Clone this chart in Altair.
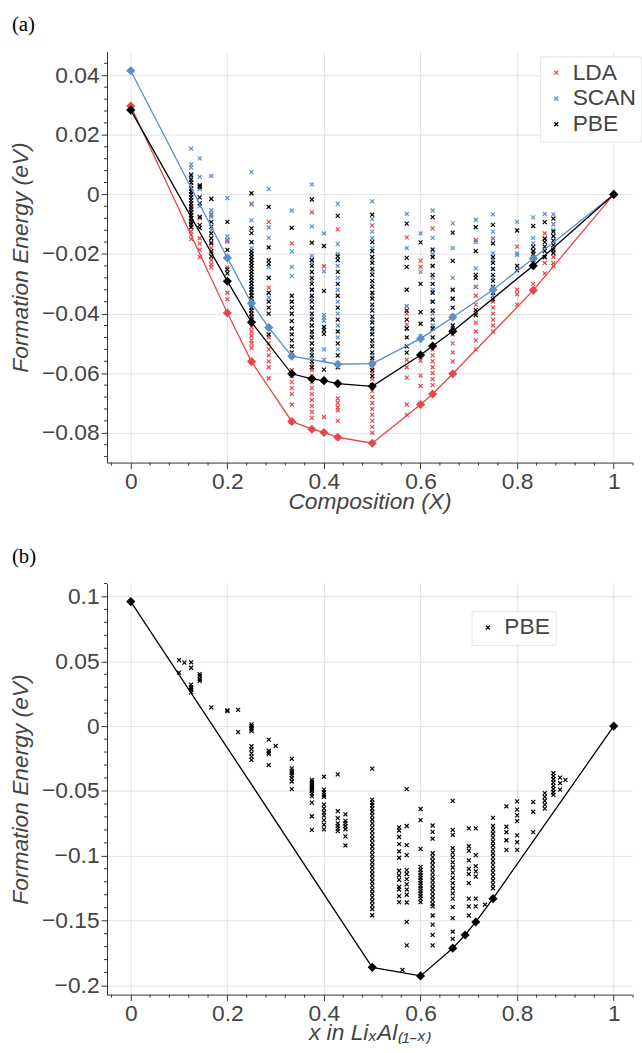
import altair as alt
import pandas as pd

RED = "#e5484a"
BLUE = "#5b8dc9"
BLACK = "#000000"
XPATH = "M-1,-1L1,1M-1,1L1,-1"

# ---------------- Panel (a): scatter values per composition ----------------
LDA_A = {
    0.125: [-0.0045, -0.006, -0.007, -0.008, -0.009, -0.0095, -0.010, -0.011, -0.0125, -0.0135, -0.015],
    1/7: [-0.008, -0.0147, -0.0165, -0.0186, -0.021],
    1/6: [-0.0069, -0.016, -0.018, -0.0197, -0.022, -0.0235, -0.0245],
    0.2: [-0.0158, -0.0245, -0.033, -0.0352],
    0.25: [-0.0031, -0.036, -0.038, -0.040, -0.0415, -0.043, -0.0445, -0.046, -0.0475, -0.049, -0.050, -0.0515, -0.0561],
    2/7: [-0.0092, -0.0313, -0.048, -0.050, -0.052, -0.054, -0.056, -0.058, -0.0617],
    1/3: [-0.0164, -0.059, -0.061, -0.063, -0.065, -0.067, -0.0705, -0.0762],
    0.375: [-0.006, -0.057, -0.059, -0.061, -0.063, -0.065, -0.067, -0.069, -0.071, -0.073, -0.075, -0.0788],
    0.4: [-0.0241, -0.0747, -0.0799],
    3/7: [-0.0117, -0.0685, -0.070, -0.0715, -0.0725, -0.076, -0.0815],
    0.5: [-0.0104, -0.058, -0.060, -0.062, -0.064, -0.066, -0.068, -0.070, -0.072, -0.074, -0.076, -0.078, -0.080, -0.0835],
    4/7: [-0.0144, -0.0375, -0.040, -0.0437, -0.0555, -0.058, -0.0615, -0.0705, -0.074],
    0.6: [-0.0222, -0.0243, -0.0558, -0.0608, -0.0643, -0.0705],
    0.625: [-0.0114, -0.052, -0.054, -0.056, -0.058, -0.060, -0.062, -0.064, -0.067],
    2/3: [-0.047, -0.050, -0.053, -0.056, -0.0602],
    5/7: [-0.0153, -0.031, -0.034, -0.037, -0.040, -0.043, -0.046, -0.049, -0.052],
    0.75: [-0.0148, -0.036, -0.038, -0.040, -0.042, -0.044, -0.046],
    0.8: [-0.0175, -0.032, -0.0335, -0.037],
    5/6: [-0.030, -0.0322],
    6/7: [-0.0131, -0.021, -0.023, -0.0265],
    0.875: [-0.019, -0.021, -0.023, -0.024],
}
SCAN_A = {
    0.125: [0.0154, 0.0101, 0.009, 0.0068, 0.0058, 0.003, 0.001, -0.001, -0.003, -0.005],
    1/7: [0.0121, 0.0059, 0.003, 0.0018, -0.004],
    1/6: [0.0062, -0.0015, -0.0054, -0.0065, -0.0075, -0.012],
    0.2: [-0.0012, -0.0141, -0.0153, -0.021],
    0.25: [0.0075, -0.0033, -0.0087, -0.016, -0.018, -0.020, -0.022, -0.024, -0.026, -0.028, -0.030, -0.032, -0.034, -0.0365],
    2/7: [0.0018, -0.0111, -0.0146, -0.0243, -0.028, -0.0346, -0.0449],
    1/3: [-0.0054, -0.0191, -0.0243, -0.0274, -0.036, -0.040, -0.0545],
    0.375: [0.0034, -0.0107, -0.0206, -0.023, -0.026, -0.029, -0.032, -0.035, -0.038, -0.041, -0.044, -0.047, -0.050, -0.053, -0.055],
    0.4: [-0.0131, -0.0258, -0.0404, -0.0414, -0.0424, -0.052, -0.0555],
    3/7: [-0.0031, -0.0166, -0.020, -0.024, -0.028, -0.032, -0.036, -0.040, -0.044, -0.048, -0.052, -0.057],
    0.5: [-0.0023, -0.0083, -0.0125, -0.0147, -0.018, -0.022, -0.026, -0.030, -0.034, -0.038, -0.042, -0.046, -0.050, -0.054, -0.0568],
    4/7: [-0.0065, -0.018, -0.0375, -0.045],
    0.6: [-0.0131, -0.026, -0.0476, -0.0484],
    0.625: [-0.0054, -0.0146, -0.020, -0.024, -0.028, -0.032, -0.036, -0.040, -0.044],
    2/3: [-0.0097, -0.018, -0.028, -0.035, -0.0412],
    5/7: [-0.0085, -0.016, -0.0248, -0.031],
    0.75: [-0.0067, -0.0125, -0.0148, -0.0197, -0.022, -0.025, -0.028, -0.031, -0.034],
    0.8: [-0.0092, -0.0198, -0.0203],
    5/6: [-0.0077, -0.0146, -0.0164, -0.019],
    6/7: [-0.0065, -0.0148],
    0.875: [-0.0067, -0.010, -0.012, -0.014],
}
PBE_A = {
    0.125: [0.0065, 0.005, 0.004, 0.002, 0.001, 0.0, -0.001, -0.002, -0.003, -0.004, -0.005, -0.006, -0.007, -0.008, -0.009, -0.010, -0.011],
    1/7: [0.003, 0.0025, -0.001, -0.003, -0.0075, -0.0103, -0.0113],
    1/6: [-0.0015, -0.0092, -0.0108, -0.0131, -0.0147, -0.0164, -0.0191, -0.0208],
    0.2: [-0.0092, -0.0186, -0.0252, -0.0265],
    0.25: [0.0004, -0.0114, -0.013, -0.016, -0.019, -0.020, -0.021, -0.022, -0.023, -0.024, -0.025, -0.026, -0.027, -0.028, -0.029, -0.030, -0.031, -0.032, -0.033, -0.034, -0.035, -0.036, -0.037, -0.038, -0.039, -0.040, -0.041, -0.042],
    2/7: [-0.0042, -0.0178, -0.0221, -0.0233, -0.028, -0.033, -0.036, -0.038, -0.040, -0.047],
    1/3: [-0.0112, -0.034, -0.036, -0.038, -0.040, -0.0425, -0.045, -0.047, -0.049, -0.051, -0.053],
    0.375: [-0.0017, -0.0162, -0.022, -0.024, -0.026, -0.028, -0.030, -0.032, -0.034, -0.036, -0.038, -0.040, -0.042, -0.044, -0.046, -0.048, -0.050, -0.052, -0.054, -0.056, -0.058],
    0.4: [-0.0173, -0.0324, -0.0445, -0.0455, -0.0468, -0.0588],
    3/7: [-0.0072, -0.0208, -0.022, -0.026, -0.030, -0.034, -0.038, -0.042, -0.046, -0.050, -0.054, -0.058],
    0.5: [-0.0068, -0.016, -0.019, -0.021, -0.023, -0.025, -0.027, -0.029, -0.031, -0.033, -0.035, -0.037, -0.039, -0.041, -0.043, -0.045, -0.047, -0.049, -0.051, -0.053, -0.055, -0.057, -0.059, -0.061],
    4/7: [-0.0098, -0.0213, -0.0243, -0.032, -0.039, -0.042, -0.045, -0.048, -0.051, -0.0531],
    0.6: [-0.0161, -0.030, -0.0395, -0.0434],
    0.625: [-0.0076, -0.0185, -0.021, -0.024, -0.027, -0.030, -0.033, -0.036, -0.039, -0.042, -0.045, -0.048],
    2/3: [-0.0128, -0.0223, -0.032, -0.035, -0.038, -0.041, -0.044],
    5/7: [-0.011, -0.019, -0.027, -0.028, -0.0388, -0.0405],
    0.75: [-0.0102, -0.0164, -0.021, -0.023, -0.025, -0.027, -0.029, -0.031, -0.033, -0.0352],
    0.8: [-0.0121, -0.024, -0.0255],
    5/6: [-0.0106, -0.0176, -0.019, -0.020, -0.022],
    6/7: [-0.0093, -0.0148, -0.016, -0.0175, -0.019, -0.021],
    0.875: [-0.0081, -0.0125, -0.014, -0.0155, -0.017, -0.0185, -0.0197],
}

# ---------------- Panel (a): convex hulls ----------------
HULL_LDA_X = [0, 0.2, 0.25, 1/3, 0.375, 0.4, 3/7, 0.5, 0.6, 0.625, 2/3, 5/6, 1]
HULL_LDA_Y = [0.0297, -0.0398, -0.0561, -0.0762, -0.0788, -0.0799, -0.0815, -0.0835, -0.0705, -0.067, -0.0602, -0.0322, 0]
HULL_SCAN_X = [0, 0.2, 0.25, 2/7, 1/3, 3/7, 0.5, 0.6, 2/3, 0.75, 5/6, 1]
HULL_SCAN_Y = [0.0415, -0.0213, -0.0365, -0.0447, -0.0543, -0.0570, -0.0568, -0.0484, -0.0412, -0.032, -0.0215, 0]
HULL_PBE_X = [0, 0.2, 0.25, 1/3, 0.375, 0.4, 3/7, 0.5, 0.6, 0.625, 2/3, 5/6, 1]
HULL_PBE_Y = [0.0283, -0.0291, -0.0429, -0.0602, -0.0619, -0.0625, -0.0635, -0.0644, -0.0539, -0.0509, -0.0459, -0.0239, 0]

# ---------------- Panel (b): PBE Li-Al ----------------
PBE_B = {
    0.1: [0.0509, 0.0412],
    1/9: [0.049],
    0.125: [0.0492, 0.045, 0.032, 0.030, 0.029, 0.028, 0.026],
    1/7: [0.040, 0.0385, 0.0365, 0.035],
    1/6: [0.0145],
    0.2: [0.0122, 0.0115],
    2/9: [0.0125, -0.0046],
    0.25: [0.0013, 0.0, -0.0013, -0.0025, -0.0038, -0.0155, -0.018, -0.021, -0.0235, -0.026],
    2/7: [-0.0104, -0.019, -0.0205, -0.0216, -0.030],
    0.3: [-0.0153],
    1/3: [-0.0252, -0.0326, -0.0345, -0.036, -0.0378, -0.040, -0.0427, -0.0486],
    0.375: [-0.0415, -0.043, -0.0445, -0.046, -0.047, -0.048, -0.049, -0.050, -0.052, -0.054, -0.059, -0.0695, -0.080],
    0.4: [-0.039, -0.049, -0.051, -0.053, -0.0545, -0.0605, -0.0634, -0.0664, -0.069, -0.0725, -0.076, -0.0796],
    3/7: [-0.0372, -0.0656, -0.071, -0.075, -0.077, -0.079, -0.081],
    4/9: [-0.068, -0.073, -0.075, -0.077, -0.0795, -0.085, -0.092],
    0.5: [-0.0328, -0.0567, -0.059, -0.061, -0.0635, -0.0662, -0.069, -0.072, -0.075, -0.078, -0.081, -0.084, -0.087, -0.090, -0.093, -0.096, -0.099, -0.102, -0.105, -0.108, -0.111, -0.114, -0.117, -0.120, -0.123, -0.126, -0.129, -0.132, -0.135, -0.138, -0.141, -0.1458],
    5/9: [-0.078, -0.0805, -0.0855, -0.091, -0.0965, -0.1015, -0.1115, -0.115, -0.1185, -0.124, -0.126, -0.131, -0.1357],
    0.5625: [-0.188],
    4/7: [-0.0486, -0.077, -0.0918, -0.0995, -0.111, -0.114, -0.118, -0.122, -0.126, -0.130, -0.136, -0.151, -0.169],
    0.6: [-0.0639, -0.0725, -0.0946, -0.1085, -0.111, -0.113, -0.115, -0.117, -0.119, -0.121, -0.123, -0.125, -0.127, -0.129, -0.131, -0.133, -0.1357],
    0.625: [-0.0766, -0.0815, -0.0868, -0.098, -0.101, -0.104, -0.107, -0.110, -0.113, -0.116, -0.119, -0.122, -0.125, -0.128, -0.131, -0.134, -0.137, -0.139, -0.146, -0.153, -0.161, -0.169],
    2/3: [-0.0576, -0.080, -0.0838, -0.094, -0.0975, -0.101, -0.105, -0.109, -0.113, -0.117, -0.121, -0.125, -0.129, -0.133, -0.1395, -0.148, -0.1585, -0.164],
    0.7: [-0.0788, -0.0926, -0.096, -0.1035, -0.110, -0.114, -0.121, -0.133, -0.139, -0.146],
    5/7: [-0.0788, -0.0995, -0.108, -0.112, -0.116, -0.133, -0.139],
    11/15: [-0.1377],
    0.75: [-0.0707, -0.077, -0.080, -0.083, -0.086, -0.089, -0.092, -0.095, -0.098, -0.101, -0.104, -0.107, -0.110, -0.113, -0.116, -0.119, -0.122, -0.125],
    7/9: [-0.0618, -0.0776, -0.0818, -0.088, -0.0954],
    0.8: [-0.058, -0.0644, -0.0688, -0.0733, -0.0842, -0.0895, -0.0954],
    5/6: [-0.0585, -0.066, -0.0817],
    6/7: [-0.0517, -0.0545, -0.0575, -0.0605, -0.0636],
    0.875: [-0.0363, -0.0385, -0.041, -0.0435, -0.046, -0.0485, -0.051, -0.053],
    8/9: [-0.0397, -0.044, -0.049],
    0.9: [-0.0415],
}
HULL_B_X = [0, 0.5, 0.6, 2/3, 9/13, 5/7, 0.75, 1]
HULL_B_Y = [0.096, -0.186, -0.1926, -0.1712, -0.161, -0.151, -0.133, 0]

# ticks
X_MAJOR = [0, 0.2, 0.4, 0.6, 0.8, 1]
X_MINOR = [-0.04, 0.04, 0.08, 0.12, 0.16, 0.24, 0.28, 0.32, 0.36, 0.44, 0.48, 0.52, 0.56,
           0.64, 0.68, 0.72, 0.76, 0.84, 0.88, 0.92, 0.96, 1.04]
YA_MAJOR = [-0.08, -0.06, -0.04, -0.02, 0, 0.02, 0.04]
YA_MINOR = [-0.088, -0.084, -0.076, -0.072, -0.068, -0.064, -0.056, -0.052, -0.048, -0.044,
            -0.036, -0.032, -0.028, -0.024, -0.016, -0.012, -0.008, -0.004, 0.004, 0.008,
            0.012, 0.016, 0.024, 0.028, 0.032, 0.036, 0.044]
YB_MAJOR = [-0.2, -0.15, -0.1, -0.05, 0, 0.05, 0.1]
YB_MINOR = [-0.19, -0.18, -0.17, -0.16, -0.14, -0.13, -0.12, -0.11, -0.09, -0.08, -0.07,
            -0.06, -0.04, -0.03, -0.02, -0.01, 0.01, 0.02, 0.03, 0.04, 0.06, 0.07, 0.08,
            0.09, 0.11]

W, H = 530, 415
FONT = "Liberation Sans"
TXT = "#444444"


def scatter_frame(named):
    rows = []
    for method, cols in named:
        for c, vals in cols.items():
            for v in vals:
                rows.append({"x": c, "y": v, "method": method})
    return pd.DataFrame(rows)


def hull_frame(named):
    rows = []
    for method, xs, ys in named:
        for a, b in zip(xs, ys):
            rows.append({"x": a, "y": b, "method": method})
    return pd.DataFrame(rows)


def panel(sc_df, hull_df, methods, colors, ydom, ymajor, yminor, xtitle, tag, lx, ly, ty):
    xs = alt.Scale(domain=[-0.0492, 1.0380], nice=False, zero=False)
    ys = alt.Scale(domain=ydom, nice=False, zero=False)
    cs = alt.Scale(domain=methods, range=colors)
    xaxis = alt.Axis(values=X_MAJOR, format="~g", title=xtitle, titleY=ty, titleBaseline="middle")
    yaxis = alt.Axis(values=ymajor, format="~g", title="Formation Energy (eV)")
    legend = alt.Legend(title=None, orient="none", legendX=lx, legendY=ly)

    pts = alt.Chart(sc_df).mark_point(shape=XPATH, size=16, strokeWidth=1.2, filled=False, opacity=1).encode(
        x=alt.X("x:Q", scale=xs, axis=xaxis),
        y=alt.Y("y:Q", scale=ys, axis=yaxis),
        color=alt.Color("method:N", scale=cs, legend=legend),
    )
    lines = alt.Chart(hull_df).mark_line(strokeWidth=1.3).encode(
        x=alt.X("x:Q", scale=xs),
        y=alt.Y("y:Q", scale=ys),
        color=alt.Color("method:N", scale=cs, legend=None),
        detail="method:N",
    )
    dia = alt.Chart(hull_df).mark_point(shape="diamond", size=85, filled=True, opacity=1).encode(
        x=alt.X("x:Q", scale=xs),
        y=alt.Y("y:Q", scale=ys),
        color=alt.Color("method:N", scale=cs, legend=None),
    )
    xm = alt.Chart(pd.DataFrame({"x": X_MINOR})).mark_rule(color="#333", strokeWidth=1).encode(
        x=alt.X("x:Q", scale=xs),
        y=alt.value(H), y2=alt.value(H + 3),
    )
    ym = alt.Chart(pd.DataFrame({"y": yminor})).mark_rule(color="#333", strokeWidth=1).encode(
        y=alt.Y("y:Q", scale=ys),
        x=alt.value(0), x2=alt.value(-3),
    )
    label = alt.Chart(pd.DataFrame({"t": [tag]})).mark_text(
        align="left", baseline="middle", font="Liberation Serif", fontSize=21, color="black"
    ).encode(text="t:N", x=alt.value(-96), y=alt.value(-27))
    return alt.layer(pts, lines, dia, xm, ym, label).properties(width=W, height=H)


sc_a = scatter_frame([("LDA", LDA_A), ("SCAN", SCAN_A), ("PBE", PBE_A)])
hull_a = hull_frame([("LDA", HULL_LDA_X, HULL_LDA_Y), ("SCAN", HULL_SCAN_X, HULL_SCAN_Y),
                     ("PBE", HULL_PBE_X, HULL_PBE_Y)])
sc_b = scatter_frame([("PBE", PBE_B)])
hull_b = hull_frame([("PBE", HULL_B_X, HULL_B_Y)])

top = panel(sc_a, hull_a, ["LDA", "SCAN", "PBE"], [RED, BLUE, BLACK], [-0.09, 0.048],
            YA_MAJOR, YA_MINOR, "Composition (X)", "(a)", 437, 5, 39)
bottom = panel(sc_b, hull_b, ["PBE"], [BLACK], [-0.207, 0.11],
               YB_MAJOR, YB_MINOR, "x in LiₓAl₍₁₋ₓ₎", "(b)", 368, 28, 38)

chart = alt.vconcat(top, bottom, spacing=33).resolve_scale(
    color="independent", x="independent", y="independent"
).resolve_legend(color="independent").properties(
    padding={"left": 9, "top": 9, "right": 0, "bottom": 0}
).configure_view(stroke=None).configure_axis(
    grid=True, gridColor="#e4e4e4", tickSize=6, tickColor="#333", domainColor="#333",
    labelFontSize=23, labelColor=TXT, labelFont=FONT, labelPadding=2,
    titleFont=FONT, titleFontSize=23, titleFontStyle="italic",
    titleFontWeight="normal", titleColor=TXT,
).configure_axisY(titlePadding=9).configure_legend(
    symbolType=XPATH, symbolSize=16, symbolStrokeWidth=1.2,
    labelFontSize=23, labelColor=TXT, labelFont=FONT, labelLimit=200,
    strokeColor="#e6e6e6", fillColor="white", padding=5,
    rowPadding=2, labelOffset=5,
)

chart.save("out.html", embed_options={"renderer": "svg", "actions": False})
